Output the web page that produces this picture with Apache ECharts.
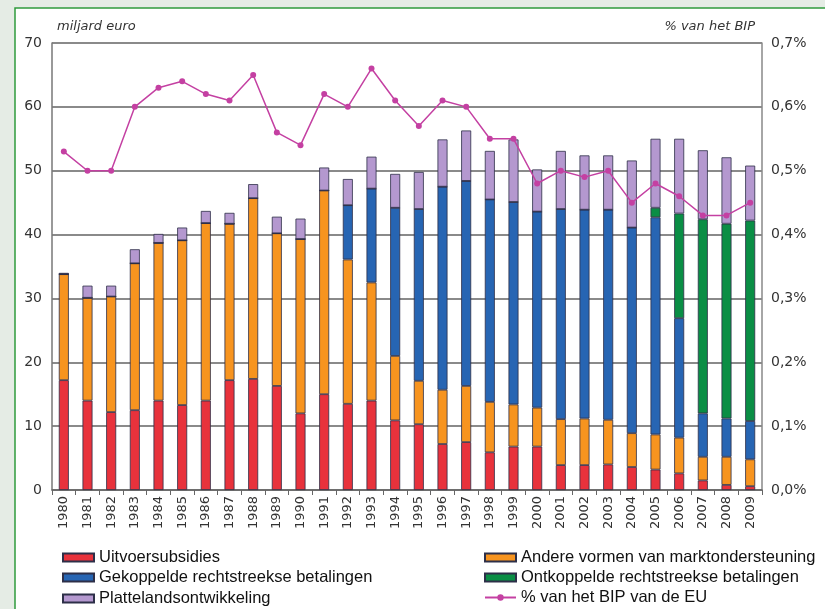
<!DOCTYPE html>
<html>
<head>
<meta charset="utf-8">
<script src="https://cdn.jsdelivr.net/npm/echarts@6/dist/echarts.min.js"></script>
<style>
  html, body { margin: 0; padding: 0; background: #e5ece5; }
  #chart { width: 825px; height: 609px; }
</style>
</head>
<body>
<div id="chart"></div>
<script>
// Jaren
const years = ['1980','1981','1982','1983','1984','1985','1986','1987','1988','1989',
  '1990','1991','1992','1993','1994','1995','1996','1997','1998','1999',
  '2000','2001','2002','2003','2004','2005','2006','2007','2008','2009'];

// Uitgaven in miljard euro per onderdeel (gestapeld)
const uitvoersubsidies = [17.2,14.0,12.2,12.5,14.0,13.3,14.0,17.2,17.4,16.3,
  12.0,15.0,13.5,14.0,10.9,10.3,7.2,7.5,5.9,6.8,
  6.8,3.9,3.9,4.0,3.6,3.2,2.6,1.5,0.8,0.6];
const andereMarkt = [16.6,16.1,18.1,23.0,24.7,25.8,27.8,24.5,28.3,23.9,
  27.3,31.9,22.6,18.5,10.1,6.8,8.5,8.8,7.9,6.6,
  6.1,7.2,7.3,7.0,5.3,5.5,5.6,3.7,4.4,4.2];
const gekoppeld = [0,0,0,0,0,0,0,0,0,0,
  0,0,8.5,14.7,23.2,26.9,31.8,32.1,31.7,31.7,
  30.7,32.9,32.7,32.9,32.2,34.0,18.7,6.8,6.0,6.0];
const ontkoppeld = [0,0,0,0,0,0,0,0,0,0,
  0,0,0,0,0,0,0,0,0,0,
  0,0,0,0,0,1.5,16.4,30.4,30.5,31.4];
const platteland = [0.2,1.9,1.7,2.2,1.4,2.0,1.9,1.7,2.2,2.6,
  3.2,3.6,4.1,5.0,5.3,5.8,7.4,7.9,7.6,9.8,
  6.6,9.1,8.5,8.5,10.5,10.8,11.7,10.8,10.4,8.6];

// Uitgaven als % van het BIP van de EU
const bipPct = [0.53,0.50,0.50,0.60,0.63,0.64,0.62,0.61,0.65,0.56,
  0.54,0.62,0.60,0.66,0.61,0.57,0.61,0.60,0.55,0.55,
  0.48,0.50,0.49,0.50,0.45,0.48,0.46,0.43,0.43,0.45];

// As-indeling
const leftTicks = { min: 0, max: 70, interval: 10 };
const rightTicks = { min: 0, max: 0.7, interval: 0.1 };

const axisFont = "'DejaVu Sans', sans-serif";
const legendFont = "'Liberation Sans', Arial, sans-serif";
const barBorder = { borderColor: '#2d2f48', borderWidth: 0.8 };

function barSeries(name, data, color) {
  return {
    name, type: 'bar', stack: 'totaal', data,
    barWidth: 10,
    itemStyle: Object.assign({ color }, barBorder),
    emphasis: { disabled: true }
  };
}

function legendItem(name, left, top, icon) {
  const item = {
    data: [name], left, top, orient: 'horizontal',
    itemWidth: 31, itemHeight: 8, itemGap: 0, padding: 0,
    textStyle: { fontFamily: legendFont, fontSize: 16.5, color: '#111' },
    selectedMode: false
  };
  if (icon) item.icon = icon;
  return item;
}

const chart = echarts.init(document.getElementById('chart'), null, { renderer: 'canvas' });

chart.setOption({
  backgroundColor: '#e5ece5',
  animation: false,
  graphic: [
    {
      type: 'rect', z: -10, silent: true,
      shape: { x: 15, y: 8, width: 900, height: 700 },
      style: { fill: '#ffffff', stroke: '#2f9a3c', lineWidth: 1.5 }
    },
    {
      type: 'text', left: 57, top: 20,
      style: { text: 'miljard euro', fontFamily: axisFont, fontStyle: 'italic', fontSize: 13, fill: '#333' }
    },
    {
      type: 'text', right: 70, top: 20,
      style: { text: '% van het BIP', fontFamily: axisFont, fontStyle: 'italic', fontSize: 13, fill: '#333', textAlign: 'right' }
    }
  ],
  grid: { left: 52, right: 63, top: 43, bottom: 119 },
  legend: [
    legendItem('Uitvoersubsidies', 62, 549, 'rect'),
    legendItem('Gekoppelde rechtstreekse betalingen', 62, 569, 'rect'),
    legendItem('Plattelandsontwikkeling', 62, 590, 'rect'),
    legendItem('Andere vormen van marktondersteuning', 484, 549, 'rect'),
    legendItem('Ontkoppelde rechtstreekse betalingen', 484, 569, 'rect'),
    legendItem('% van het BIP van de EU', 484, 589)
  ],
  xAxis: {
    type: 'category', data: years, boundaryGap: true,
    axisLine: { lineStyle: { color: '#666', width: 1.5 } },
    axisTick: { show: true, interval: 0, length: 5, lineStyle: { color: '#666' } },
    axisLabel: { rotate: 90, interval: 0, margin: 6, fontFamily: axisFont, fontSize: 13, color: '#333' }
  },
  yAxis: [
    {
      type: 'value', min: leftTicks.min, max: leftTicks.max, interval: leftTicks.interval,
      axisLine: { show: true, lineStyle: { color: '#777', width: 1.5 } },
      axisTick: { show: false },
      splitLine: { lineStyle: { color: '#8a8a8a', width: 2 } },
      axisLabel: { margin: 10, fontFamily: axisFont, fontSize: 14, color: '#333' }
    },
    {
      type: 'value', min: rightTicks.min, max: rightTicks.max, interval: rightTicks.interval,
      position: 'right',
      axisLine: { show: true, lineStyle: { color: '#888', width: 1.5 } },
      axisTick: { show: false },
      splitLine: { show: false },
      axisLabel: {
        margin: 9, fontFamily: axisFont, fontSize: 14, color: '#333',
        formatter: v => v.toFixed(1).replace('.', ',') + '%'
      }
    }
  ],
  series: [
    barSeries('Uitvoersubsidies', uitvoersubsidies, '#e8323c'),
    barSeries('Andere vormen van marktondersteuning', andereMarkt, '#f7941f'),
    barSeries('Gekoppelde rechtstreekse betalingen', gekoppeld, '#2765b3'),
    barSeries('Ontkoppelde rechtstreekse betalingen', ontkoppeld, '#0a8e45'),
    barSeries('Plattelandsontwikkeling', platteland, '#b498cf'),
    {
      name: '% van het BIP van de EU', type: 'line', yAxisIndex: 1, data: bipPct,
      symbol: 'circle', symbolSize: 6,
      lineStyle: { color: '#c440a2', width: 1.5 },
      itemStyle: { color: '#c440a2' },
      emphasis: { disabled: true }, z: 5
    }
  ]
});
</script>
</body>
</html>
